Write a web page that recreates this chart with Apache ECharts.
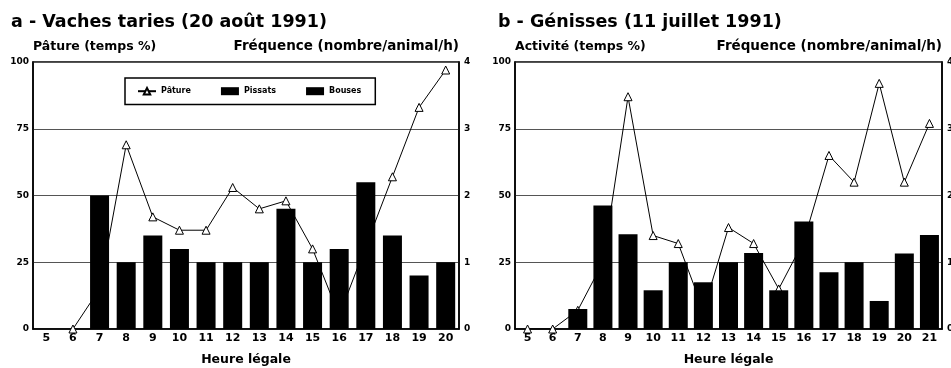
<!DOCTYPE html>
<html>
<head>
<meta charset="utf-8">
<script src="https://cdn.jsdelivr.net/npm/echarts@6/dist/echarts.min.js"></script>
<style>
  html, body { margin: 0; padding: 0; background: #fff; }
  #chart { width: 951px; height: 368px; }
</style>
</head>
<body>
<div id="chart"></div>
<script>
// a - vaches taries
const hoursA = ['5', '6', '7', '8', '9', '10', '11', '12', '13', '14', '15', '16', '17', '18', '19', '20'];
const patureA = [null, 0, 15, 69, 42, 37, 37, 53, 45, 48, 30, 5, 31, 57, 83, 97];
const pissatsA = [0, 0, 2.0, 1.0, 1.4, 1.2, 1.0, 1.0, 1.0, 1.8, 1.0, 1.2, 2.2, 1.4, 0.8, 1.0];
const bousesA = []; // not separable from the picture (same black fill)

// b - genisses
const hoursB = ['5', '6', '7', '8', '9', '10', '11', '12', '13', '14', '15', '16', '17', '18', '19', '20', '21'];
const patureB = [0, 0, 7, 25, 87, 35, 32, 7, 38, 32, 15, 33, 65, 55, 92, 55, 77];
const pissatsB = [0, 0, 0.3, 1.85, 1.42, 0.58, 1.0, 0.7, 1.0, 1.14, 0.58, 1.61, 0.85, 1.0, 0.42, 1.13, 1.41];
const bousesB = [];

const leftTicks = [0, 25, 50, 75, 100];
const rightTicks = [0, 1, 2, 3, 4];

const FONT = 'DejaVu Sans';
const chart = echarts.init(document.getElementById('chart'));

function leftAxis(gridIndex, name) {
  return {
    type: 'value',
    gridIndex: gridIndex,
    position: 'left',
    min: leftTicks[0],
    max: leftTicks[leftTicks.length - 1],
    interval: 25,
    name: name,
    nameLocation: 'end',
    nameGap: 9,
    nameTextStyle: { align: 'left', fontFamily: FONT, fontWeight: 'bold', fontSize: 12.5, color: '#000' },
    axisLine: { show: true, lineStyle: { color: '#000', width: 1.5 } },
    axisTick: { show: false },
    axisLabel: { fontFamily: FONT, fontWeight: 'bold', fontSize: 9, color: '#000', margin: 4 },
    splitLine: { show: true, lineStyle: { color: '#555', width: 1 } },
  };
}

function rightAxis(gridIndex) {
  return {
    type: 'value',
    gridIndex: gridIndex,
    position: 'right',
    min: rightTicks[0],
    max: rightTicks[rightTicks.length - 1],
    interval: 1,
    name: 'Fréquence (nombre/animal/h)',
    nameLocation: 'end',
    nameGap: 9,
    nameTextStyle: { align: 'right', fontFamily: FONT, fontWeight: 'bold', fontSize: 13.5, color: '#000' },
    axisLine: { show: true, lineStyle: { color: '#000', width: 1.5 } },
    axisTick: { show: false },
    axisLabel: { fontFamily: FONT, fontWeight: 'bold', fontSize: 9, color: '#000', margin: 5 },
    splitLine: { show: false },
  };
}

function hourAxis(gridIndex, data) {
  return {
    type: 'category',
    gridIndex: gridIndex,
    data: data,
    name: 'Heure légale',
    nameLocation: 'middle',
    nameGap: 24,
    nameTextStyle: { fontFamily: FONT, fontWeight: 'bold', fontSize: 12.5, color: '#000' },
    axisLine: { show: true, lineStyle: { color: '#000', width: 1.5 } },
    axisTick: { show: false },
    axisLabel: { fontFamily: FONT, fontWeight: 'bold', fontSize: 11, color: '#000', margin: 4, interval: 0 },
  };
}

function lineSeries(x, y, data) {
  return {
    name: 'Pâture',
    type: 'line',
    xAxisIndex: x,
    yAxisIndex: y,
    data: data,
    z: 2,
    symbol: 'triangle',
    symbolSize: 8,
    connectNulls: false,
    lineStyle: { color: '#000', width: 1 },
    itemStyle: { color: '#fff', borderColor: '#000', borderWidth: 1 },
  };
}

function barSeries(name, x, y, data) {
  return {
    name: name,
    type: 'bar',
    xAxisIndex: x,
    yAxisIndex: y,
    data: data,
    z: 3,
    barWidth: 19,
    barGap: '-100%',
    itemStyle: { color: '#000' },
  };
}

const option = {
  backgroundColor: '#fff',
  animation: false,
  title: [
    { text: 'a - Vaches taries (20 août 1991)', left: 6, top: 8,
      textStyle: { fontFamily: FONT, fontWeight: 'bold', fontSize: 17.5, color: '#000' } },
    { text: 'b - Génisses (11 juillet 1991)', left: 493, top: 8,
      textStyle: { fontFamily: FONT, fontWeight: 'bold', fontSize: 17.5, color: '#000' } },
  ],
  legend: {
    data: [
      { name: 'Pâture' },
      { name: 'Pissats', icon: 'rect' },
      { name: 'Bouses', icon: 'rect' },
    ],
    left: 125,
    top: 78,
    width: 244,
    itemGap: 30,
    itemWidth: 18,
    itemHeight: 8,
    padding: [9, 14, 9, 12],
    borderColor: '#000',
    borderWidth: 1.5,
    borderRadius: 0,
    selectedMode: false,
    textStyle: { fontFamily: FONT, fontWeight: 'bold', fontSize: 8, color: '#000' },
  },
  grid: [
    { left: 33, right: 492, top: 62, bottom: 39, outerBoundsMode: 'none',
      show: true, borderColor: '#000', borderWidth: 1.5 },
    { left: 515, right: 9, top: 62, bottom: 39, outerBoundsMode: 'none',
      show: true, borderColor: '#000', borderWidth: 1.5 },
  ],
  xAxis: [hourAxis(0, hoursA), hourAxis(1, hoursB)],
  yAxis: [
    leftAxis(0, 'Pâture (temps %)'),
    rightAxis(0),
    leftAxis(1, 'Activité (temps %)'),
    rightAxis(1),
  ],
  series: [
    lineSeries(0, 0, patureA),
    barSeries('Pissats', 0, 1, pissatsA),
    barSeries('Bouses', 0, 1, bousesA),
    lineSeries(1, 2, patureB),
    barSeries('Pissats', 1, 3, pissatsB),
    barSeries('Bouses', 1, 3, bousesB),
  ],
};

chart.setOption(option);
</script>
</body>
</html>
